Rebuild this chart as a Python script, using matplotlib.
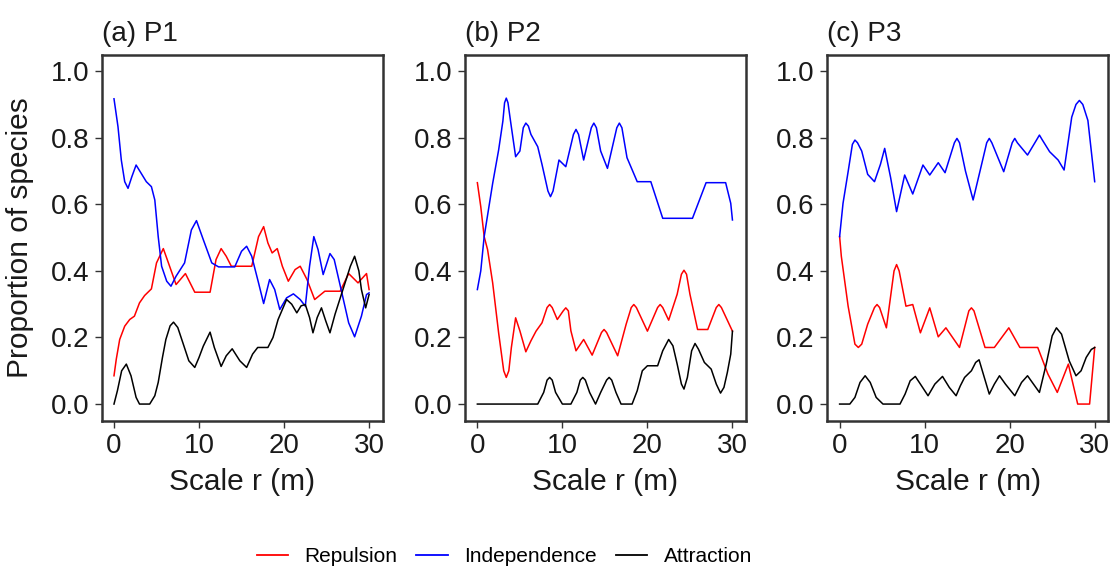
import matplotlib.pyplot as plt
from matplotlib.lines import Line2D

plt.rcParams['font.family'] = ['Liberation Sans', 'DejaVu Sans']

# ---- P1 ----
p1_rep_x = [0, 0.27, 0.67, 1.26, 1.85, 2.4, 3.0, 3.6, 4.4, 5.0, 5.8, 6.4, 7.3, 8.4, 9.5, 11.3, 12.0, 12.6,
            13.2, 13.8, 16.2, 17.0, 17.6, 18.1, 18.6, 19.2, 19.8, 20.5, 21.3, 21.9, 22.7, 23.6, 24.8, 26.6,
            27.6, 28.7, 29.7, 30]
p1_rep_y = [0.085, 0.135, 0.194, 0.234, 0.254, 0.264, 0.304, 0.326, 0.346, 0.424, 0.467, 0.424, 0.359, 0.392,
            0.336, 0.336, 0.434, 0.467, 0.444, 0.414, 0.414, 0.503, 0.533, 0.484, 0.454, 0.467, 0.414, 0.369,
            0.404, 0.414, 0.374, 0.314, 0.339, 0.339, 0.392, 0.364, 0.392, 0.344]
p1_ind_x = [0, 0.47, 0.86, 1.26, 1.65, 2.1, 2.6, 3.2, 3.8, 4.4, 4.8, 5.2, 5.6, 6.2, 6.7, 7.3, 8.3, 9.1, 9.7,
            10.5, 11.5, 12.3, 14.2, 15.0, 15.6, 16.2, 17.0, 17.6, 18.3, 18.9, 19.5, 20.3, 21.1, 21.9, 22.5,
            23.0, 23.5, 24.0, 24.6, 25.4, 25.9, 26.8, 27.6, 28.3, 29.1, 29.7, 30]
p1_ind_y = [0.917, 0.833, 0.733, 0.668, 0.648, 0.683, 0.718, 0.693, 0.668, 0.653, 0.613, 0.503, 0.414, 0.369,
            0.354, 0.384, 0.424, 0.523, 0.551, 0.494, 0.424, 0.412, 0.412, 0.459, 0.474, 0.444, 0.364, 0.302,
            0.374, 0.344, 0.284, 0.319, 0.331, 0.314, 0.294, 0.414, 0.503, 0.464, 0.389, 0.452, 0.434, 0.334,
            0.244, 0.202, 0.264, 0.329, 0.334]
p1_att_x = [0, 0.4, 0.9, 1.45, 2.0, 2.6, 3.0, 4.2, 4.8, 5.2, 5.7, 6.1, 6.6, 7.0, 7.5, 8.1, 8.8, 9.5, 10.0,
            10.5, 11.3, 11.8, 12.6, 13.2, 13.9, 14.8, 15.6, 16.3, 16.9, 18.1, 18.7, 19.3, 20.3, 20.9, 21.5,
            22.0, 22.5, 23.0, 23.4, 23.9, 24.4, 24.9, 25.4, 26.0, 26.8, 27.8, 28.3, 28.8, 29.1, 29.6, 30]
p1_att_y = [0, 0.04, 0.1, 0.12, 0.085, 0.02, 0, 0, 0.025, 0.065, 0.14, 0.194, 0.235, 0.246, 0.23, 0.184,
            0.13, 0.11, 0.14, 0.174, 0.216, 0.17, 0.113, 0.145, 0.166, 0.13, 0.11, 0.15, 0.17, 0.17, 0.2,
            0.254, 0.314, 0.3, 0.274, 0.295, 0.299, 0.26, 0.214, 0.26, 0.289, 0.25, 0.214, 0.27, 0.334, 0.414,
            0.444, 0.4, 0.344, 0.289, 0.329]

# ---- P2 ----
p2_rep_x = [0, 0.4, 0.8, 1.2, 1.8, 2.5, 3.1, 3.4, 3.7, 4.0, 4.5, 5.0, 5.7, 6.3, 6.9, 7.6, 8.2, 8.5, 8.8, 9.4,
            10.1, 10.4, 10.7, 11.0, 11.6, 12.5, 13.5, 14.6, 14.9, 15.2, 16.5, 17.5, 18.1, 18.4, 18.7, 20.0,
            21.2, 21.5, 21.8, 22.5, 23.5, 24.0, 24.3, 24.6, 25.0, 25.9, 27.1, 28.1, 28.4, 28.7, 30]
p2_rep_y = [0.665, 0.593, 0.503, 0.464, 0.364, 0.214, 0.1, 0.08, 0.1, 0.17, 0.259, 0.22, 0.157, 0.19, 0.219,
            0.244, 0.29, 0.299, 0.29, 0.254, 0.28, 0.289, 0.28, 0.22, 0.16, 0.194, 0.147, 0.215, 0.224, 0.215,
            0.145, 0.24, 0.29, 0.299, 0.29, 0.219, 0.29, 0.299, 0.29, 0.252, 0.33, 0.39, 0.402, 0.39, 0.33,
            0.224, 0.224, 0.29, 0.299, 0.29, 0.219]
p2_ind_x = [0, 0.4, 0.8, 1.8, 2.5, 3.0, 3.2, 3.4, 3.6, 3.9, 4.5, 5.0, 5.4, 5.7, 6.0, 6.3, 7.1, 7.6, 8.3, 8.6,
            8.9, 9.6, 10.4, 11.3, 11.6, 11.9, 12.5, 13.4, 13.7, 14.0, 14.5, 15.3, 16.4, 16.7, 17.0, 17.6,
            18.8, 20.4, 21.8, 25.3, 26.9, 29.2, 29.8, 30]
p2_ind_y = [0.344, 0.40, 0.503, 0.663, 0.763, 0.85, 0.905, 0.919, 0.905, 0.85, 0.743, 0.76, 0.83, 0.844,
            0.835, 0.81, 0.773, 0.72, 0.64, 0.623, 0.64, 0.733, 0.713, 0.81, 0.825, 0.81, 0.733, 0.83, 0.844,
            0.83, 0.76, 0.708, 0.83, 0.844, 0.83, 0.74, 0.668, 0.668, 0.558, 0.558, 0.665, 0.665, 0.603, 0.553]
p2_att_x = [0, 7.1, 7.8, 8.2, 8.5, 8.8, 9.2, 10.0, 11.0, 11.7, 12.1, 12.4, 12.7, 13.2, 13.9, 14.5, 15.2, 15.5,
            15.8, 16.3, 16.9, 18.2, 18.8, 19.4, 20.0, 21.2, 21.8, 22.5, 23.0, 23.5, 24.0, 24.3, 24.7, 25.2,
            25.6, 26.0, 26.7, 27.5, 28.1, 28.6, 29.0, 29.4, 29.8, 30]
p2_att_y = [0, 0, 0.035, 0.072, 0.08, 0.072, 0.035, 0, 0, 0.035, 0.072, 0.08, 0.072, 0.035, 0, 0.035, 0.072,
            0.08, 0.072, 0.035, 0, 0, 0.04, 0.1, 0.115, 0.115, 0.16, 0.194, 0.175, 0.12, 0.06, 0.045, 0.08,
            0.16, 0.182, 0.165, 0.125, 0.105, 0.06, 0.033, 0.05, 0.095, 0.15, 0.219]

# ---- P3 ----
p3_rep_x = [0, 0.2, 1.0, 1.8, 2.2, 2.6, 3.3, 4.1, 4.4, 4.7, 5.5, 6.4, 6.7, 7.0, 7.8, 8.6, 9.5, 10.6, 11.6,
            12.5, 14.1, 15.2, 15.5, 15.8, 17.1, 18.2, 19.9, 21.2, 23.3, 24.5, 25.6, 26.9, 28.0, 29.4, 30]
p3_rep_y = [0.503, 0.444, 0.294, 0.18, 0.17, 0.18, 0.24, 0.29, 0.299, 0.29, 0.229, 0.40, 0.419, 0.40, 0.294,
            0.299, 0.214, 0.289, 0.202, 0.229, 0.17, 0.28, 0.289, 0.28, 0.17, 0.17, 0.229, 0.17, 0.17, 0.09,
            0.035, 0.12, 0.0, 0.0, 0.17]
p3_ind_x = [0, 0.4, 1.0, 1.5, 1.8, 2.1, 2.6, 3.3, 4.1, 4.8, 5.3, 6.0, 6.7, 7.65, 8.6, 9.8, 10.6, 11.6, 12.4,
            13.5, 13.8, 14.1, 14.8, 15.7, 16.7, 17.3, 17.6, 17.9, 19.3, 20.3, 20.6, 20.9, 22.1, 23.2, 23.5,
            23.8, 24.7, 25.7, 26.4, 27.3, 27.8, 28.2, 28.6, 29.2, 30]
p3_ind_y = [0.503, 0.603, 0.698, 0.78, 0.793, 0.785, 0.76, 0.69, 0.668, 0.72, 0.768, 0.68, 0.578, 0.688,
            0.631, 0.718, 0.688, 0.725, 0.695, 0.785, 0.798, 0.785, 0.70, 0.613, 0.72, 0.785, 0.798, 0.785,
            0.698, 0.785, 0.798, 0.785, 0.748, 0.795, 0.808, 0.795, 0.758, 0.733, 0.703, 0.862, 0.9, 0.912,
            0.9, 0.852, 0.668]
p3_att_x = [0, 1.2, 1.8, 2.4, 3.0, 3.6, 4.3, 5.1, 7.1, 7.7, 8.3, 8.9, 9.5, 10.4, 11.2, 12.1, 12.9, 13.7,
            14.2, 14.7, 15.5, 16.0, 16.4, 16.9, 17.6, 18.2, 18.8, 19.5, 20.6, 21.4, 22.1, 22.8, 23.5, 24.3,
            25.0, 25.5, 26.1, 27.0, 27.8, 28.4, 29.0, 29.6, 30]
p3_att_y = [0, 0, 0.02, 0.065, 0.085, 0.065, 0.02, 0, 0, 0.03, 0.07, 0.083, 0.06, 0.025, 0.06, 0.083, 0.05,
            0.025, 0.055, 0.08, 0.1, 0.125, 0.133, 0.09, 0.03, 0.06, 0.085, 0.06, 0.025, 0.065, 0.085, 0.06,
            0.035, 0.12, 0.205, 0.229, 0.21, 0.13, 0.085, 0.1, 0.14, 0.164, 0.17]

titles = ["(a) P1", "(b) P2", "(c) P3"]
series_names = ["Repulsion", "Independence", "Attraction"]
series_colors = ["#ff0000", "#0000ff", "#000000"]
yticks = [0.0, 0.2, 0.4, 0.6, 0.8, 1.0]
xticks = [0, 10, 20, 30]

panels = [
    [(p1_rep_x, p1_rep_y), (p1_ind_x, p1_ind_y), (p1_att_x, p1_att_y)],
    [(p2_rep_x, p2_rep_y), (p2_ind_x, p2_ind_y), (p2_att_x, p2_att_y)],
    [(p3_rep_x, p3_rep_y), (p3_ind_x, p3_ind_y), (p3_att_x, p3_att_y)],
]

fig = plt.figure(figsize=(11.16, 5.72), dpi=100)
lefts = [0.0911, 0.4167, 0.7413]
frame_col = "#333333"

for i, (left, data) in enumerate(zip(lefts, panels)):
    ax = fig.add_axes([left, 0.2645, 0.2518, 0.6402])
    for (xs, ys), col in zip(data, series_colors):
        ax.plot(xs, ys, color=col, lw=1.1)
    ax.set_xlim(-1.45, 31.6)
    ax.set_ylim(-0.05, 1.05)
    ax.set_xticks(xticks)
    ax.set_yticks(yticks)
    ax.set_yticklabels([f"{v:.1f}" for v in yticks])
    ax.tick_params(labelsize=20, length=5, width=1, color=frame_col, labelcolor="#1a1a1a", pad=4)
    for sp in ax.spines.values():
        sp.set_color(frame_col)
        sp.set_linewidth(1.8)
    ax.set_title(titles[i], loc="left", fontsize=20, pad=10, color="#1a1a1a")
    ax.set_xlabel("Scale r (m)", fontsize=21.5, labelpad=6, color="#1a1a1a")
    if i == 0:
        ax.set_ylabel("Proportion of species", fontsize=21.5, color="#1a1a1a")
        ax.yaxis.set_label_coords(-0.24, 0.5)

handles = [Line2D([], [], color=c, lw=1.3) for c in series_colors]
fig.legend(handles, series_names, loc="center", bbox_to_anchor=(0.452, 0.027), ncol=3, frameon=False,
           fontsize=15, handlelength=1.5, handletextpad=0.8, columnspacing=0.9)

fig.savefig("out.png", dpi=100)
